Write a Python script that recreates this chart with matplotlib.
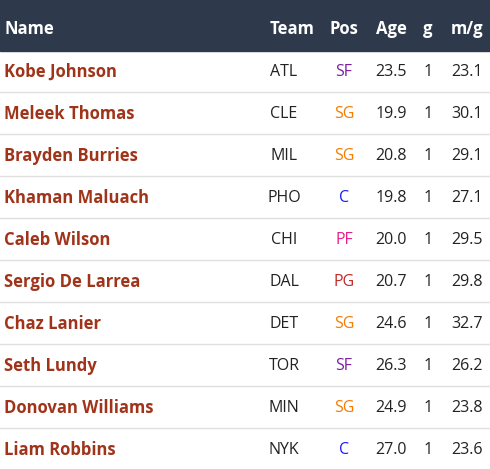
import matplotlib.pyplot as plt

names = ["Kobe Johnson", "Meleek Thomas", "Brayden Burries", "Khaman Maluach",
         "Caleb Wilson", "Sergio De Larrea", "Chaz Lanier", "Seth Lundy",
         "Donovan Williams", "Liam Robbins"]
teams = ["ATL", "CLE", "MIL", "PHO", "CHI", "DAL", "DET", "TOR", "MIN", "NYK"]
positions = ["SF", "SG", "SG", "C", "PF", "PG", "SG", "SF", "SG", "C"]
ages = [23.5, 19.9, 20.8, 19.8, 20.0, 20.7, 24.6, 26.3, 24.9, 27.0]
games = [1, 1, 1, 1, 1, 1, 1, 1, 1, 1]
minutes = [23.1, 30.1, 29.1, 27.1, 29.5, 29.8, 32.7, 26.2, 23.8, 23.6]

pos_colors = {"SF": "#7b1fa2", "SG": "#f57c00", "C": "#1a1aff",
              "PF": "#e91e8c", "PG": "#c62828"}

plt.rcParams['font.family'] = ['Open Sans', 'DejaVu Sans']

fig = plt.figure(figsize=(4.9, 4.69), dpi=100)
ax = fig.add_axes([0, 0, 1, 1])
ax.set_xlim(0, 490)
ax.set_ylim(469, 0)
ax.axis('off')

# header
ax.add_patch(plt.Rectangle((0, 0), 490, 51, color='#2e3a4b'))
hy = 29
ax.text(4, hy, "Name", color='white', fontsize=12, fontweight='bold', va='center')
for x, lab in [(292, "Team"), (344, "Pos"), (391, "Age"), (428, "g"), (467, "m/g")]:
    ax.text(x, hy, lab, color='white', fontsize=12, fontweight='bold', va='center', ha='center')

row_h = 42
for i in range(len(names)):
    y = 72 + i * row_h
    ax.text(4, y, names[i], color='#a0341a', fontsize=12, fontweight='bold', va='center')
    ax.text(284, y, teams[i], color='#222222', fontsize=11.5, va='center', ha='center')
    ax.text(344, y, positions[i], color=pos_colors[positions[i]], fontsize=11.5, va='center', ha='center')
    ax.text(391, y, f"{ages[i]:.1f}", color='#222222', fontsize=11.5, va='center', ha='center')
    ax.text(428, y, str(games[i]), color='#222222', fontsize=11.5, va='center', ha='center')
    ax.text(467, y, f"{minutes[i]:.1f}", color='#222222', fontsize=11.5, va='center', ha='center')
    ax.plot([0, 490], [y + 20, y + 20], color='#e0e0e0', lw=1)

fig.savefig('out.png', dpi=100)
